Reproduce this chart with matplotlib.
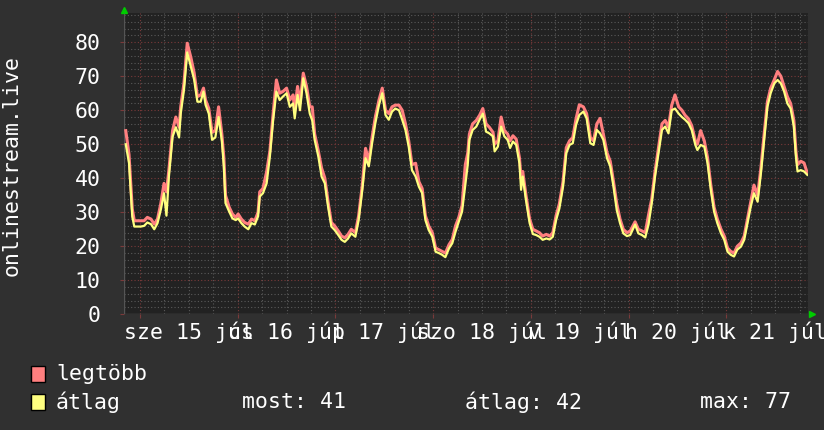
import matplotlib
matplotlib.use('Agg')
import matplotlib.pyplot as plt
from matplotlib.patches import Rectangle

# hours since 15 Jul 00:00
t = [-3.5, -2.7, -2.3, -1.9, -1.4, -0.6, 0.2, 1.0, 1.8, 2.7, 3.5, 4.3, 5.1, 5.9, 6.5, 7.1, 8.0, 8.8, 9.6, 10.0,
     10.8, 11.6, 12.5, 13.3, 14.1, 14.9, 15.6, 16.1, 16.9, 17.7, 18.5, 19.3, 20.1, 20.6, 21.0, 21.9, 22.7, 23.5,
     24.1, 24.9, 25.7, 26.6, 27.4, 28.2, 29.0, 29.4, 30.2, 31.1, 31.9, 32.7, 33.5, 34.3, 35.1, 36.0, 36.8, 37.6,
     38.0, 38.7, 39.3, 40.1, 40.9, 41.7, 42.3, 42.9, 43.8, 44.6, 45.4, 46.2, 47.0, 47.8, 48.7, 49.5, 50.3, 51.1,
     51.9, 52.9, 53.7, 54.6, 55.4, 56.2, 57.0, 57.8, 58.7, 59.5, 60.3, 61.1, 61.9, 62.7, 63.6, 64.4, 65.2, 66.0,
     66.8, 67.7, 68.5, 69.3, 70.1, 70.9, 71.8, 72.6, 73.4, 74.2, 75.0, 75.9, 76.7, 77.5, 78.3, 79.1, 79.9, 80.5,
     80.9, 81.7, 82.6, 83.4, 84.2, 85.0, 85.8, 86.7, 87.1, 87.9, 88.7, 89.5, 90.3, 90.9, 91.6, 92.4, 93.2, 93.6,
     94.0, 94.8, 95.7, 96.5, 97.3, 98.1, 98.9, 99.8, 100.6, 101.4, 102.2, 103.0, 103.9, 104.7, 105.5, 106.3,
     107.1, 107.9, 108.9, 109.7, 110.6, 111.4, 112.2, 113.0, 113.8, 114.7, 115.5, 116.3, 117.1, 117.9, 118.7,
     119.6, 120.4, 121.6, 122.4, 123.3, 124.1, 124.9, 125.7, 126.5, 127.3, 128.2, 129.0, 129.8, 130.6, 131.4,
     132.3, 133.1, 133.9, 134.7, 135.5, 136.4, 136.9, 137.7, 138.6, 139.4, 140.2, 141.0, 141.8, 142.7, 143.5,
     144.3, 145.1, 145.9, 146.7, 147.6, 148.4, 149.2, 150.0, 150.8, 151.7, 152.5, 153.3, 154.1, 154.9, 155.8,
     156.6, 157.4, 158.2, 159.0, 159.8, 160.6, 161.1, 161.5, 162.3, 163.1, 163.9]

atlag = [50, 44.5, 36.5, 28.7, 25.8, 25.8, 25.8, 26, 27, 26.5, 25, 26.8, 30.7, 35.6, 29, 40.5, 52.2, 55, 52, 59,
         66, 77, 72.8, 69, 62.5, 62.5, 65.5, 61.6, 59, 51.3, 52, 58, 51, 43.4, 32.7, 30.2, 28.2, 27.7,
         28.2, 26.8, 25.8, 25, 26.8, 26.4, 28.8, 34.6, 35.6, 38.5, 46.4, 57.1, 65.5, 63, 64, 65, 61, 62,
         57.6, 64.5, 60, 69.4, 65, 59, 57, 51.3, 46.4, 40.5, 38.5, 31.6, 25.8, 24.8, 23.3, 21.9, 21.3, 22.3,
         23.8, 22.8, 27.7, 36.6, 45.9, 43.5, 50.3, 56.2, 61.6, 65, 58.6, 57.2, 59.6, 60.5, 60, 57.2, 54.2, 49.3,
         42.4, 40.5, 37.5, 35.6, 27.7, 24.8, 22.8, 18.4, 18, 17.5, 16.8, 19.4, 20.9, 24.3, 27.2, 30.2, 38, 44,
         51.3, 54.2, 55.2, 57.2, 59, 53.7, 53.2, 52.3, 47.9, 49.3, 55.2, 52.3, 51.3, 48.9, 50.8, 49.8, 44.4, 36.6,
         40.5, 33.6, 26.8, 23.6, 23.3, 22.8, 21.9, 22.3, 22, 22.8, 27.7, 31.1, 37.5, 47.4, 49.8, 50.3,
         55.7, 58.6, 59.6, 57.6, 50.3, 49.8, 54.2, 53.2, 51.3, 45.9, 43.5, 37.5, 30.6, 26.8, 23.8,
         23, 23.3, 26.4, 23.8, 23.3, 22.6, 26.4, 32.7, 40.5, 46.9, 54.2, 55.2, 53.2, 60, 60.5,
         59, 58, 57.2, 56.2, 54.2, 49.8, 48.3, 49.8, 49.3, 44.4, 36.6, 30.2, 26.8, 23.8, 21.9,
         18.4, 17.5, 17, 19, 19.9, 21.9, 26.8, 31.6, 35.6, 33.1, 41.4, 51.3, 61, 65, 67.9,
         68.9, 67.9, 65.5, 62, 60.5, 55.2, 46.4, 42, 42.4, 42, 41]

legtobb = [54, 47, 39, 31, 27.5, 27.5, 27.5, 27.5, 28.5, 28, 26.5, 28, 32.5, 38.5, 36, 42.5, 54, 58, 55, 61,
           68, 79.7, 75.5, 71, 64, 64.5, 66.5, 63, 60.5, 53.5, 54, 61, 53, 46, 35, 31.5, 29.5, 28.5,
           29.5, 28, 27, 26.5, 28, 27.5, 30, 36, 37, 41.9, 48, 59, 68.9, 65, 65.5, 66.5, 63, 64.5,
           60, 67, 62, 70.9, 67, 61, 61, 53, 48, 43, 40, 33, 27, 26, 24.5, 23, 22.5, 23.5,
           25, 24, 29, 38, 48.8, 45, 52, 58, 63, 66.5, 60, 59, 61, 61.5, 61.5, 60, 56, 51,
           44, 44.4, 39, 37, 29, 26, 24, 19.5, 19, 18.5, 18, 20.5, 22, 26, 28.5, 32, 44, 47.4,
           53, 56, 57, 58.5, 60.5, 56, 55, 53.5, 50, 51, 58, 54, 53, 51, 52.5, 51.5, 46, 40,
           42, 35, 28, 25, 24.5, 24, 23, 23.5, 23, 24, 29, 32.5, 39, 49, 51, 52,
           57.5, 61.6, 61, 59, 52, 51, 56, 57.6, 53, 47.5, 45, 39, 32.5, 28, 25,
           24, 24.5, 27.2, 25, 24.5, 24, 29.2, 34, 42, 48.5, 56, 57, 55, 61.5, 64.5,
           61, 60, 58.5, 57.5, 55.5, 51, 50, 54, 51, 46, 38, 31.5, 28, 25, 23,
           19.5, 18.5, 18, 20, 21, 23, 28, 33, 38, 35, 43, 53, 62.5, 66.5, 69,
           71.4, 70, 67, 64, 62, 57, 48, 44, 45, 44.5, 41.5]

nap_cimkek = ['sze 15 júl', 'cs 16 júl', 'p 17 júl', 'szo 18 júl', 'v 19 júl', 'h 20 júl', 'k 21 júl']
nap_kozep = [12, 36, 60, 84, 108, 132, 156]
ejfel = [0, 24, 48, 72, 96, 120, 144]
hat_ora = [6, 12, 18, 30, 36, 42, 54, 60, 66, 78, 84, 90, 102, 108, 114, 126, 132, 138, 150, 156, 162]
y_fo = [0, 10, 20, 30, 40, 50, 60, 70, 80]

most = atlag[-1]
atl = round(sum(atlag) / len(atlag))
mx = round(max(atlag))

bg = '#303030'
fig = plt.figure(figsize=(8.24, 4.30), dpi=100)
fig.patch.set_facecolor(bg)
ax = fig.add_axes([124/824, 1-314.3/430, 684/824, 301/430])
ax.set_facecolor('#222222')

for y in range(2, 89, 2):
    if y % 10:
        ax.axhline(y, color='#5a5a5a', lw=0.8, ls=(0, (1, 2)), zorder=1)
for x in hat_ora:
    if x % 24:
        ax.axvline(x, color='#5a5a5a', lw=0.8, ls=(0, (1, 2)), zorder=1)
for y in y_fo[1:]:
    ax.axhline(y, color='#7a3a3a', lw=0.8, ls=(0, (1, 2)), zorder=1)
for x in ejfel:
    ax.axvline(x, color='#7a3a3a', lw=0.8, ls=(0, (1, 2)), zorder=1)

ax.plot(t, legtobb, color='#ff7f7f', lw=2.2, zorder=3)
ax.plot(t, atlag, color='#ffff80', lw=1.6, zorder=4)

ax.set_xlim(-3.93, 164.07)
ax.set_ylim(0, 88.5)
for s in ax.spines.values():
    s.set_visible(False)
ax.axhline(0, color='#555555', lw=1, zorder=2)
ax.axvline(-3.93, color='#555555', lw=1, zorder=2)

ax.set_yticks(y_fo)
ax.set_yticklabels([str(v) for v in y_fo], family='DejaVu Sans Mono', fontsize=15.5, color='white')
ax.tick_params(axis='y', length=3, color='#7a3a3a', pad=14)
ax.set_xticks(ejfel)
ax.set_xticklabels([])
ax.tick_params(axis='x', length=3, color='#7a3a3a')
for x, s in zip(nap_kozep, nap_cimkek):
    ax.text(x, -0.025, s, transform=ax.get_xaxis_transform(), ha='center', va='top',
            family='DejaVu Sans Mono', fontsize=15.5, color='white')

# green arrows at axis ends
ax.plot([0], [1.01], marker='^', color='#00cc00', ms=5, transform=ax.transAxes, clip_on=False)
ax.plot([1.006], [0], marker='>', color='#00cc00', ms=5, transform=ax.transAxes, clip_on=False)

fig.text(12/824, 1-165/430, 'onlinestream.live', rotation=90, ha='center', va='center',
         family='DejaVu Sans Mono', fontsize=15.5, color='white')

# legend
fig.patches.append(Rectangle((31/824, 1-382/430), 14/824, 16/430, transform=fig.transFigure,
                             facecolor='#ff7f7f', edgecolor='black', lw=1))
fig.patches.append(Rectangle((31/824, 1-410/430), 14/824, 16/430, transform=fig.transFigure,
                             facecolor='#ffff80', edgecolor='black', lw=1))
f = dict(family='DejaVu Sans Mono', fontsize=15.5, color='white', va='center')
fig.text(56/824, 1-374/430, 'legtöbb', **f)
fig.text(56/824, 1-402/430, 'átlag', **f)
fig.text(242/824, 1-402/430, 'most: %d' % most, **f)
fig.text(465/824, 1-402/430, 'átlag: %d' % atl, **f)
fig.text(700/824, 1-402/430, 'max: %d' % mx, **f)

plt.savefig('out.png', dpi=100, facecolor=bg)
